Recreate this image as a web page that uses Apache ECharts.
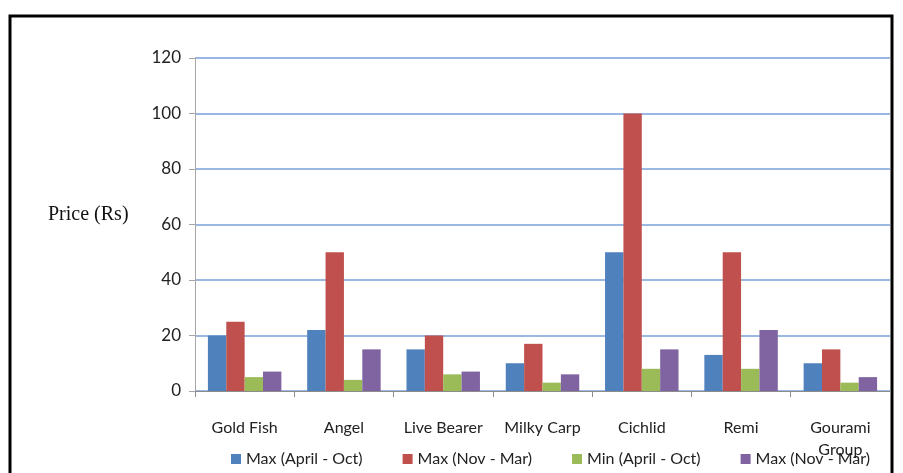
<!DOCTYPE html>
<html lang="en">
<head>
<meta charset="UTF-8">
<title>Price (Rs)</title>
<script src="https://cdn.jsdelivr.net/npm/echarts@6/dist/echarts.min.js"></script>
<style>
  html, body { margin: 0; padding: 0; background: #fff; }
  #main { width: 903px; height: 473px; }
</style>
</head>
<body>
<div id="main"></div>
<script type="text/javascript">
  // data
  var fishes = ['Gold Fish', 'Angel', 'Live Bearer', 'Milky Carp', 'Cichlid', 'Remi', 'Gourami\nGroup'];
  var seriesNames = ['Max (April - Oct)', 'Max (Nov - Mar)', 'Min (April - Oct)', 'Max (Nov - Mar) '];
  var maxAprOct = [20, 22, 15, 10, 50, 13, 10];
  var maxNovMar = [25, 50, 20, 17, 100, 50, 15];
  var minAprOct = [5, 4, 6, 3, 8, 8, 3];
  var max2NovMar = [7, 15, 7, 6, 15, 22, 5];
  var colors = ['#4F81BD', '#C0504D', '#9BBB59', '#8064A2'];

  var myChart = echarts.init(document.getElementById('main'));

  var font = 'Lato, "Open Sans", sans-serif';
  var allData = [maxAprOct, maxNovMar, minAprOct, max2NovMar];
  var series = allData.map(function (d, i) {
    return {
      name: seriesNames[i],
      type: 'bar',
      data: d,
      barGap: '0%',
      barCategoryGap: '26%',
      itemStyle: { color: colors[i] }
    };
  });

  myChart.setOption({
    animation: false,
    color: colors,
    grid: { left: 195, right: 13, top: 58, bottom: 82 },
    legend: {
      data: seriesNames,
      left: 226,
      top: 446,
      itemWidth: 10,
      itemHeight: 10,
      itemGap: 40,
      icon: 'rect',
      textStyle: { fontFamily: font, fontSize: 16, color: '#222' }
    },
    xAxis: {
      type: 'category',
      data: fishes,
      axisLine: { lineStyle: { color: '#8c8c8c', width: 1 } },
      axisTick: { show: true, interval: 0, length: 6, lineStyle: { color: '#8c8c8c' } },
      axisLabel: {
        interval: 0,
        margin: 26,
        fontFamily: font,
        fontSize: 16,
        color: '#222',
        lineHeight: 22
      }
    },
    yAxis: {
      type: 'value',
      min: 0,
      max: 120,
      interval: 20,
      axisLine: { show: true, lineStyle: { color: '#a6a6a6' } },
      axisTick: { show: true, length: 6, lineStyle: { color: '#a6a6a6' } },
      axisLabel: { margin: 14, fontFamily: font, fontSize: 17, color: '#222' },
      splitLine: { lineStyle: { color: '#7aa1d8', width: 1.5 } }
    },
    graphic: [
      {
        type: 'rect',
        shape: { x: 10, y: 16, width: 882, height: 480 },
        style: { fill: 'none', stroke: '#000', lineWidth: 3 },
        silent: true
      },
      {
        type: 'text',
        left: 48,
        top: 205,
        style: {
          text: 'Price (Rs)',
          fontFamily: '"Liberation Serif", serif',
          fontSize: 20,
          fill: '#111'
        }
      }
    ],
    series: series
  });
</script>
</body>
</html>
